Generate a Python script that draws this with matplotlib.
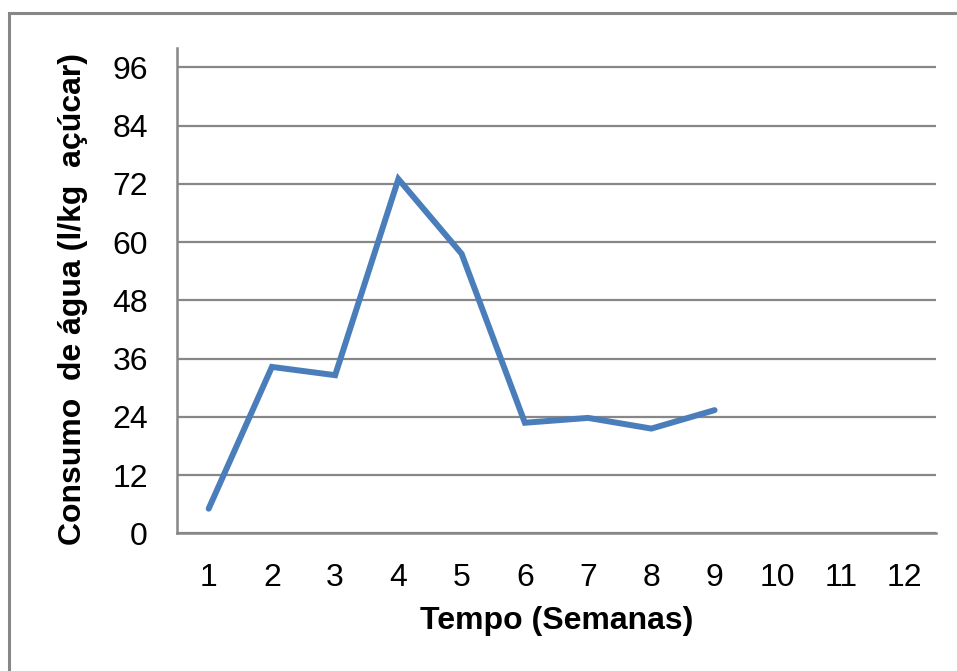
import matplotlib
matplotlib.use("Agg")
import matplotlib.pyplot as plt
from matplotlib.patches import Rectangle

plt.rcParams["font.family"] = ["Liberation Sans", "DejaVu Sans"]

semanas = list(range(1, 13))
semanas_dados = [1, 2, 3, 4, 5, 6, 7, 8, 9]
consumo = [5.1, 34.3, 32.6, 73.0, 57.6, 22.8, 23.8, 21.6, 25.4]
yticks = [0, 12, 24, 36, 48, 60, 72, 84, 96]

grey = "#878787"
blue = "#4A7EBB"

fig = plt.figure(figsize=(9.57, 6.71), dpi=100)
ax = fig.add_axes([0.185, 0.205, 0.793, 0.7235])

# moldura cinzenta do gráfico (cortada à direita e em baixo)
fig.patches.append(Rectangle((0.0094, -0.2), 1.2, 0.9806 + 0.2,
                             transform=fig.transFigure, fill=False,
                             edgecolor=grey, linewidth=2.2, zorder=0))

ax.plot(semanas_dados, consumo, color=blue, linewidth=4.3,
        solid_capstyle="round", solid_joinstyle="miter", zorder=3)

ax.set_xlim(0.5, 12.5)
ax.set_ylim(0, 100)
ax.set_xticks(semanas)
ax.set_yticks(yticks)
ax.yaxis.grid(True, color=grey, linewidth=1.6)
ax.set_axisbelow(True)

for side in ["top", "right"]:
    ax.spines[side].set_visible(False)
for side in ["left", "bottom"]:
    ax.spines[side].set_color(grey)
    ax.spines[side].set_linewidth(1.8)

ax.tick_params(axis="both", length=0, labelsize=23, labelcolor="black")
ax.tick_params(axis="x", pad=21)
ax.tick_params(axis="y", pad=21)

ax.set_xlabel("Tempo (Semanas)", fontsize=23, fontweight="bold")
ax.xaxis.label.set_va("center")
ax.xaxis.set_label_coords(0.5, -0.181)
ax.set_ylabel("Consumo  de água (l/kg  açúcar)", fontsize=23, fontweight="bold")
ax.yaxis.label.set_va("center")
ax.yaxis.set_label_coords(-0.137, 0.483)

fig.savefig("out.png", dpi=100)
